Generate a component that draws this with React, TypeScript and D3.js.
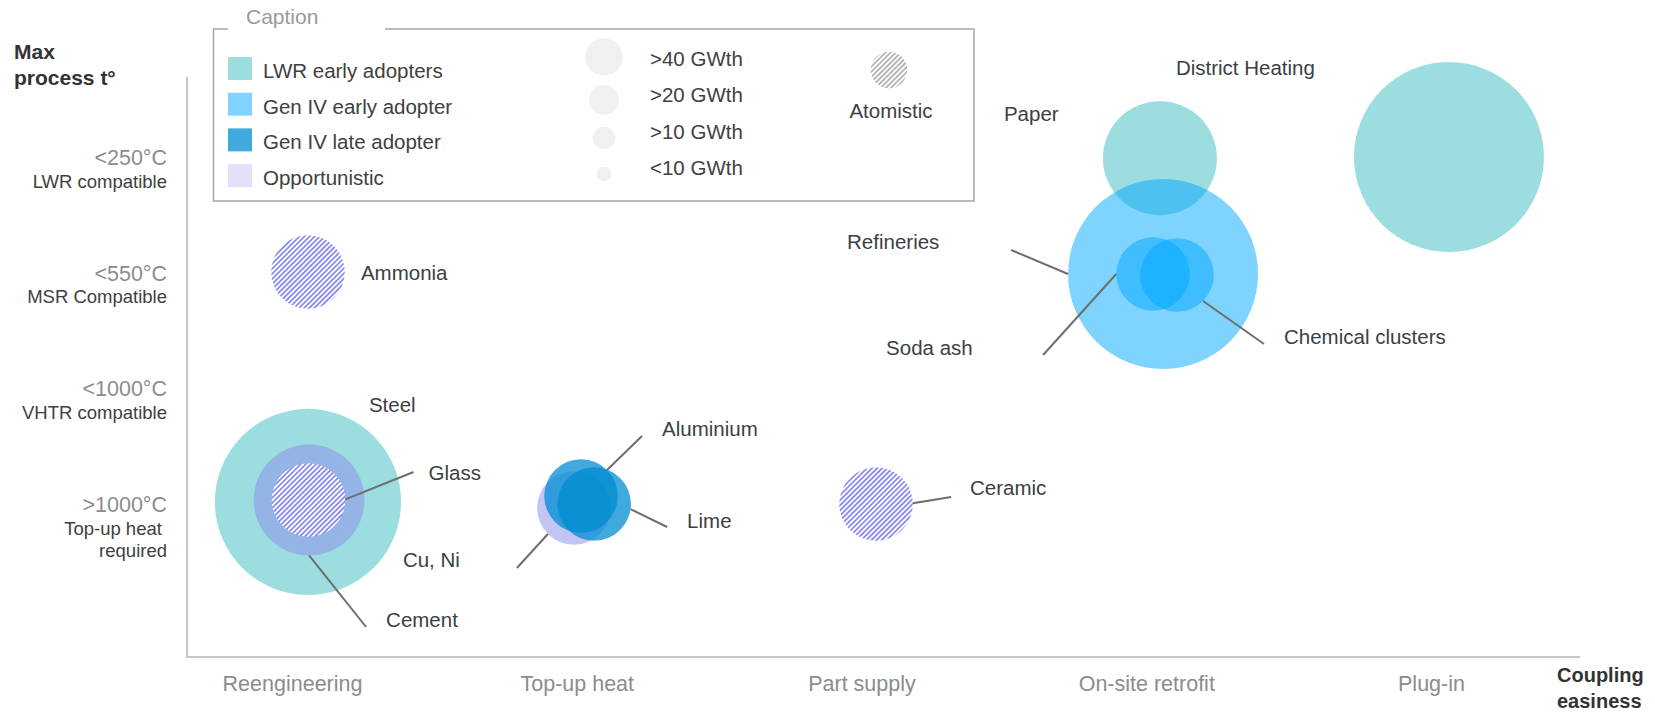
import React, { useEffect, useRef } from "react";
import * as d3 from "d3";

// axes
const couplingLevels = ["Reengineering", "Top-up heat", "Part supply", "On-site retrofit", "Plug-in"];
const tempLevels = ["<250°C", "<550°C", "<1000°C", ">1000°C"];
const tempNotes = [["LWR compatible"], ["MSR Compatible"], ["VHTR compatible"], ["Top-up heat ", "required"]];

// caption
const adopterTypes = ["LWR early adopters", "Gen IV early adopter", "Gen IV late adopter", "Opportunistic"];
const sizeClasses = [">40 GWth", ">20 GWth", ">10 GWth", "<10 GWth"];

// industries: coupling index, temperature row, heat demand GWth, adopter type
const industryNames = ["District Heating", "Paper", "Refineries", "Soda ash", "Chemical clusters", "Ammonia", "Steel", "Cement", "Glass", "Cu, Ni", "Aluminium", "Lime", "Ceramic"];
const industryCoupling = [4.063, 3.048, 3.059, 3.024, 3.108, 0.056, 0.056, 0.06, 0.058, 0.99, 1.015, 1.061, 2.051];
const industryTemp = [0.0, 0.01, 1.023, 1.023, 1.032, 1.006, 3.017, 3.0, 3.0, 3.07, 2.965, 3.035, 3.035];
const industryDemand = [50, 18, 50, 7.5, 7.5, 7.5, 48, 17, 7.5, 7.5, 7.5, 7.5, 7.5];
const industryType = [0, 0, 1, 1, 1, 3, 0, 3, 3, 3, 2, 2, 3];
const industryAtomistic = [false, false, false, false, false, true, false, false, true, false, false, false, true];

// label placement (pixels from bubble centre) and leader lines (edge angle, end point)
const labelLayout: Record<string, { dx: number; dy: number; angle?: number; ex?: number; ey?: number }> = {
  "District Heating": { dx: -273, dy: -82 },
  Paper: { dx: -156, dy: -37 },
  Refineries: { dx: -316, dy: -25, angle: 180, ex: -152, ey: -24 },
  "Soda ash": { dx: -267, dy: 81, angle: 180, ex: -110, ey: 81 },
  "Chemical clusters": { dx: 107, dy: 69, angle: 45, ex: 87, ey: 69 },
  Ammonia: { dx: 53, dy: 8 },
  Steel: { dx: 61, dy: -90 },
  Cement: { dx: 77, dy: 127, angle: 90, ex: 57, ey: 127 },
  Glass: { dx: 120, dy: -20, angle: -1, ex: 105, ey: -28 },
  "Cu, Ni": { dx: -171, dy: 59, angle: 135, ex: -57, ey: 60 },
  Aluminium: { dx: 81, dy: -60, angle: -45, ex: 61, ey: -60 },
  Lime: { dx: 93, dy: 24, angle: 8, ex: 73, ey: 23 },
  Ceramic: { dx: 94, dy: -9, angle: -1, ex: 75, ey: -7 },
};

const typeFill = ["rgb(58,187,192)", "rgb(0,168,255)", "rgb(0,140,210)", "rgb(140,140,235)"];
const typeOpacity = [0.5, 0.5, 0.75, 0.5];
const legendFill = ["#9cdde0", "#80d4ff", "#40aade", "#e1e1f8"];

const FONT = "'Liberation Sans', Arial, sans-serif";

const App = () => {
  const ref = useRef<SVGSVGElement | null>(null);

  useEffect(() => {
    if (!ref.current) return;
    const svg = d3.select(ref.current);
    svg.selectAll("*").remove();
    const width = 1655;
    const height = 713;
    svg.attr("viewBox", `0 0 ${width} ${height}`).style("font-family", FONT);

    const x = d3.scaleLinear().domain([0, 4]).range([292, 1431]);
    const y = d3.scaleLinear().domain([0, 3]).range([157, 500]);
    // tick text sits a little lower than the bubble rows
    const yTick = d3.scaleLinear().domain([0, 3]).range([165, 512]);
    const r = d3.scaleSqrt().domain([0, 50]).range([0, 95]);

    const defs = svg.append("defs");
    const hatch = (id: string, color: string) => {
      const p = defs
        .append("pattern")
        .attr("id", id)
        .attr("patternUnits", "userSpaceOnUse")
        .attr("width", 3.6)
        .attr("height", 3.6)
        .attr("patternTransform", "rotate(45)");
      p.append("rect").attr("width", 3.6).attr("height", 3.6).attr("fill", "#fff");
      p.append("rect").attr("width", 1.8).attr("height", 3.6).attr("fill", color);
    };
    hatch("hatch-blue", "#8b8bef");
    hatch("hatch-grey", "#b4b4b4");

    // axis lines
    const axisLeft = 187;
    const axisBottom = 657;
    svg
      .append("path")
      .attr("d", `M${axisLeft},77V${axisBottom}H1580`)
      .attr("fill", "none")
      .attr("stroke", "#c6c6c6")
      .attr("stroke-width", 2);

    const xAxis = svg
      .append("g")
      .attr("transform", `translate(0,${axisBottom})`)
      .call(
        d3
          .axisBottom(x)
          .tickValues(d3.range(couplingLevels.length))
          .tickFormat((d) => couplingLevels[d as number])
          .tickSize(0)
          .tickPadding(19)
      );
    xAxis.select(".domain").remove();
    xAxis.selectAll("text").attr("font-size", 21.5).attr("fill", "#8c8c8c").attr("font-family", FONT);

    // y labels
    const yl = svg.append("g").attr("text-anchor", "end").attr("font-size", 18.5);
    tempLevels.forEach((t, i) => {
      const lines = tempNotes[i];
      const txt = yl.append("text").attr("x", 167).attr("y", yTick(i));
      txt.append("tspan").attr("x", 167).attr("font-size", 21.5).attr("fill", "#8c8c8c").text(t);
      lines.forEach((l) => {
        txt.append("tspan").attr("x", 167).attr("dy", 22.5).attr("fill", "#404040").style("white-space", "pre").text(l);
      });
    });

    // axis titles
    const yt = svg.append("text").attr("font-size", 21).attr("font-weight", "bold").attr("fill", "#333");
    yt.append("tspan").attr("x", 14).attr("y", 59).text("Max");
    yt.append("tspan").attr("x", 14).attr("y", 85).text("process t°");
    const xt = svg.append("text").attr("font-size", 20).attr("font-weight", "bold").attr("fill", "#333");
    xt.append("tspan").attr("x", 1557).attr("y", 682).text("Coupling");
    xt.append("tspan").attr("x", 1557).attr("y", 708).text("easiness");

    // bubbles
    const idx = d3.range(industryNames.length);
    const bubbles = svg.append("g");
    bubbles
      .selectAll("circle")
      .data(idx)
      .join("circle")
      .attr("cx", (i) => x(industryCoupling[i]))
      .attr("cy", (i) => y(industryTemp[i]))
      .attr("r", (i) => r(industryDemand[i]))
      .attr("fill", (i) => (industryAtomistic[i] ? "url(#hatch-blue)" : typeFill[industryType[i]]))
      .attr("fill-opacity", (i) => (industryAtomistic[i] ? 1 : typeOpacity[industryType[i]]));

    // leaders + labels
    const ann = svg.append("g");
    idx.forEach((i) => {
      const name = industryNames[i];
      const lay = labelLayout[name];
      const cx = x(industryCoupling[i]);
      const cy = y(industryTemp[i]);
      if (lay.angle !== undefined) {
        const a = (lay.angle * Math.PI) / 180;
        const rr = r(industryDemand[i]);
        ann
          .append("line")
          .attr("x1", cx + rr * Math.cos(a))
          .attr("y1", cy + rr * Math.sin(a))
          .attr("x2", cx + (lay.ex as number))
          .attr("y2", cy + (lay.ey as number))
          .attr("stroke", "#6e6e6e")
          .attr("stroke-width", 2);
      }
      ann
        .append("text")
        .attr("x", cx + lay.dx)
        .attr("y", cy + lay.dy)
        .attr("font-size", 20.5)
        .attr("fill", "#3b4045")
        .text(name);
    });

    // caption box
    const lg = svg.append("g");
    lg.append("path")
      .attr("d", "M228,29H213.5V201H974V29H385")
      .attr("fill", "none")
      .attr("stroke", "#a6a6a6")
      .attr("stroke-width", 1.5);
    lg.append("text").attr("x", 246).attr("y", 24).attr("font-size", 21).attr("fill", "#9a9a9a").text("Caption");

    adopterTypes.forEach((t, i) => {
      lg.append("rect")
        .attr("x", 228)
        .attr("y", 57 + i * 35.7)
        .attr("width", 24)
        .attr("height", 23)
        .attr("fill", legendFill[i]);
      lg.append("text")
        .attr("x", 263)
        .attr("y", 78 + i * 35.5)
        .attr("font-size", 20.5)
        .attr("fill", "#404040")
        .text(t);
    });

    const legendR = [18.7, 15, 11.3, 7.3];
    const legendCy = [57, 100, 138, 174];
    sizeClasses.forEach((s, i) => {
      lg.append("circle").attr("cx", 604).attr("cy", legendCy[i]).attr("r", legendR[i]).attr("fill", "#f0f0f0");
      lg.append("text")
        .attr("x", 650)
        .attr("y", 66 + i * 36.3)
        .attr("font-size", 20.5)
        .attr("fill", "#404040")
        .text(s);
    });

    lg.append("circle").attr("cx", 889).attr("cy", 70).attr("r", 18.3).attr("fill", "url(#hatch-grey)");
    lg.append("text")
      .attr("x", 891)
      .attr("y", 118)
      .attr("text-anchor", "middle")
      .attr("font-size", 20.5)
      .attr("fill", "#404040")
      .text("Atomistic");
  }, []);

  return (
    <svg
      ref={ref}
      width={1655}
      height={713}
      style={{ position: "absolute", left: 0, top: 0, background: "#fff" }}
    ></svg>
  );
};

export default App;
